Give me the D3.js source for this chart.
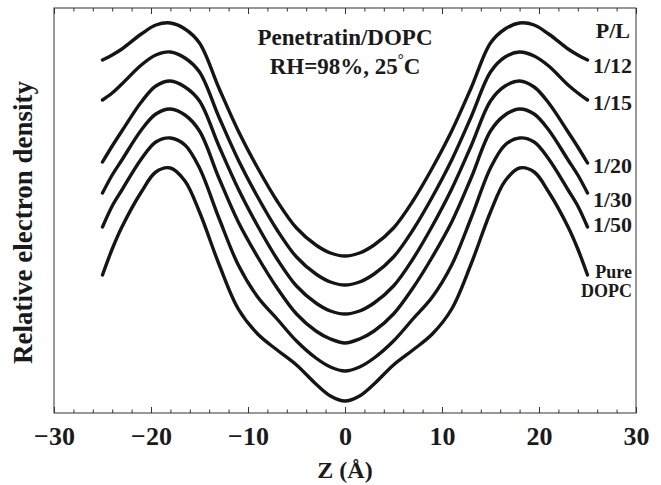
<!DOCTYPE html>
<html>
<head>
<meta charset="utf-8">
<script src="https://cdn.jsdelivr.net/npm/d3@7"></script>
<style>
  body { margin: 0; background: #fff; }
  svg text { font-family: "Liberation Serif", "Times New Roman", serif; font-weight: bold; fill: #1a1a1a; }
</style>
</head>
<body>
<div class="chart"></div>
<script>
// Z positions (Å) where the profiles were read
const zVals = [-25, -24, -23, -21, -19.5, -18, -16.5, -15, -13, -11, -9, -7, -5, -3, -1.5, 0,
    1.5, 3, 5, 7, 9, 11, 13, 15, 16.5, 18, 19.5, 21, 23, 24, 25]

// relative electron density, curves already offset as in the figure
const pl12 = [3.53, 3.58, 3.64, 3.79, 3.88, 3.90, 3.84, 3.70, 3.25, 2.82, 2.45, 2.12, 1.85, 1.68, 1.60, 1.57,
    1.60, 1.68, 1.85, 2.12, 2.45, 2.82, 3.25, 3.70, 3.84, 3.90, 3.88, 3.79, 3.64, 3.58, 3.53]
const pl15 = [3.13, 3.20, 3.29, 3.48, 3.58, 3.61, 3.55, 3.41, 2.96, 2.53, 2.16, 1.83, 1.56, 1.39, 1.31, 1.28,
    1.31, 1.39, 1.56, 1.83, 2.16, 2.53, 2.96, 3.41, 3.56, 3.61, 3.57, 3.47, 3.28, 3.20, 3.13]
const pl20 = [2.51, 2.67, 2.82, 3.11, 3.27, 3.32, 3.26, 3.12, 2.67, 2.24, 1.87, 1.54, 1.27, 1.10, 1.02, 0.99,
    1.02, 1.10, 1.27, 1.54, 1.87, 2.24, 2.67, 3.12, 3.27, 3.32, 3.26, 3.10, 2.81, 2.66, 2.50]
const pl30 = [2.20, 2.38, 2.53, 2.83, 2.99, 3.04, 2.98, 2.82, 2.35, 1.91, 1.56, 1.25, 0.99, 0.82, 0.74, 0.70,
    0.74, 0.82, 0.99, 1.25, 1.56, 1.91, 2.35, 2.82, 2.98, 3.04, 2.99, 2.83, 2.53, 2.38, 2.20]
const pl50 = [1.86, 2.07, 2.23, 2.54, 2.71, 2.75, 2.68, 2.45, 1.95, 1.48, 1.16, 0.94, 0.72, 0.55, 0.46, 0.42,
    0.46, 0.55, 0.72, 0.94, 1.16, 1.48, 1.95, 2.45, 2.68, 2.75, 2.71, 2.54, 2.23, 2.07, 1.86]
const pureDOPC = [1.38, 1.64, 1.86, 2.21, 2.41, 2.45, 2.32, 2.01, 1.49, 1.04, 0.79, 0.63, 0.48, 0.29, 0.17, 0.12,
    0.17, 0.29, 0.48, 0.63, 0.79, 1.04, 1.49, 2.01, 2.32, 2.45, 2.41, 2.21, 1.86, 1.64, 1.38]

const seriesNames = [["1/12"], ["1/15"], ["1/20"], ["1/30"], ["1/50"], ["Pure", "DOPC"]]
const seriesValues = [pl12, pl15, pl20, pl30, pl50, pureDOPC]
const xTicks = [-30, -20, -10, 0, 10, 20, 30]

const width = 661, height = 485
const margin = {left: 54, right: 25, top: 8, bottom: 72}

const svg = d3.select('.chart').append('svg')
    .attr('width', width)
    .attr('height', height)

const x = d3.scaleLinear().domain([-30, 30]).range([margin.left, width - margin.right])
const y = d3.scaleLinear().domain([0, 4.05]).range([height - margin.bottom, margin.top])

const x0 = x.range()[0], x1 = x.range()[1], y0 = y.range()[0], y1 = y.range()[1]

// frame
svg.append('rect')
    .attr('x', x0).attr('y', y1)
    .attr('width', x1 - x0).attr('height', y0 - y1)
    .attr('fill', 'none').attr('stroke', '#333').attr('stroke-width', 1)

// minor / major ticks pointing inward, bottom and top
const minor = d3.range(-28, 30, 2).filter(v => v % 10 !== 0)
svg.append('g').attr('transform', `translate(0,${y0})`)
    .call(d3.axisBottom(x).tickValues(minor).tickSize(-3.5).tickFormat(''))
svg.append('g').attr('transform', `translate(0,${y1})`)
    .call(d3.axisTop(x).tickValues(minor).tickSize(-3.5).tickFormat(''))
const bottom = svg.append('g').attr('transform', `translate(0,${y0})`)
    .call(d3.axisBottom(x).tickValues(xTicks).tickSize(-6).tickPadding(14)
        .tickFormat(d => d < 0 ? '\u2212' + Math.abs(d) : d))
svg.append('g').attr('transform', `translate(0,${y1})`)
    .call(d3.axisTop(x).tickValues(xTicks).tickSize(-6).tickFormat(''))
svg.selectAll('.domain').remove()
svg.selectAll('.tick line').attr('stroke', '#333')
bottom.selectAll('text')
    .style('font-size', '26px')
    .style('font-family', '"Liberation Serif", serif')
    .style('font-weight', 'bold')
    .attr('fill', '#1a1a1a')

// curves
const line = d3.line()
    .x((d, i) => x(zVals[i]))
    .y(d => y(d))
    .curve(d3.curveCatmullRom.alpha(0.5))

svg.selectAll('.profile')
    .data(seriesValues)
    .enter()
    .append('path')
    .attr('class', 'profile')
    .attr('d', d => line(d))
    .attr('fill', 'none')
    .attr('stroke', '#151515')
    .attr('stroke-width', 3.4)
    .attr('stroke-linecap', 'round')

// labels right of the curve ends
const labelRight = 632
const labelY = [73, 110, 173, 207, 232, 278]
seriesNames.forEach((names, i) => {
    const t = svg.append('text')
        .attr('x', labelRight)
        .attr('y', labelY[i])
        .attr('text-anchor', 'end')
        .style('font-size', names.length > 1 ? '18px' : '22px')
    if (names.length > 1) {
        t.append('tspan').attr('x', labelRight).text(names[0])
        t.append('tspan').attr('x', labelRight).attr('dy', 19).text(names[1])
    } else {
        t.text(names[0])
    }
})

svg.append('text')
    .attr('x', 630).attr('y', 38)
    .attr('text-anchor', 'end')
    .style('font-size', '22px')
    .text('P/L')

// title inside plot, two separate lines
svg.append('text')
    .attr('x', x(0)).attr('y', 45)
    .attr('text-anchor', 'middle')
    .style('font-size', '23px')
    .text('Penetratin/DOPC')
const sub = svg.append('text')
    .attr('x', x(0)).attr('y', 74)
    .attr('text-anchor', 'middle')
    .style('font-size', '23px')
sub.append('tspan').text('RH=98%, 25')
sub.append('tspan').attr('dy', -10).style('font-size', '15px').text('\u00B0')
sub.append('tspan').attr('dy', 10).text('C')

// axis titles
svg.append('text')
    .attr('x', x(0)).attr('y', 478)
    .attr('text-anchor', 'middle')
    .style('font-size', '24px')
    .text('Z (\u00C5)')

svg.append('text')
    .attr('transform', `translate(32,${(y0 + y1) / 2 + 12}) rotate(-90)`)
    .attr('text-anchor', 'middle')
    .style('font-size', '27px')
    .text('Relative electron density')
</script>
</body>
</html>
